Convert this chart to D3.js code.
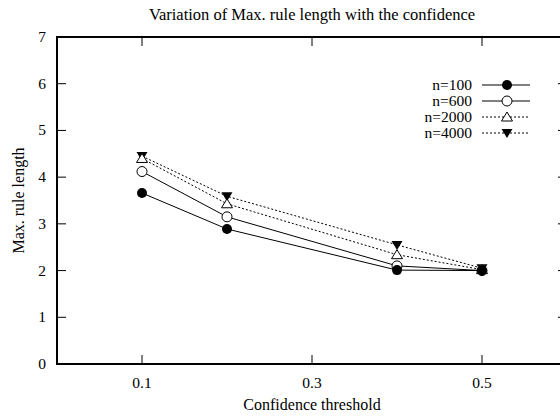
<!DOCTYPE html>
<html>
<head>
<meta charset="utf-8">
<script src="https://cdn.jsdelivr.net/npm/d3@7"></script>
<style>
  html, body { margin: 0; padding: 0; background: #fff; }
  svg { display: block; font-family: "Liberation Serif", "Times New Roman", serif; }
</style>
</head>
<body>
<svg id="chart" width="560" height="416"></svg>
<script>
// Confidence thresholds on the x axis
const thresholds = [0.1, 0.2, 0.4, 0.5];
// Maximum rule length for each sample size
const n100  = [3.66, 2.89, 2.01, 2.0];
const n600  = [4.12, 3.15, 2.10, 2.0];
const n2000 = [4.40, 3.43, 2.34, 2.02];
const n4000 = [4.45, 3.59, 2.55, 2.05];
const seriesNames = ["n=100", "n=600", "n=2000", "n=4000"];
const xTicks = [0.1, 0.3, 0.5];
const yTicks = [0, 1, 2, 3, 4, 5, 6, 7];

const series = [
  { name: seriesNames[0], values: n100,  dash: null,  marker: "dot" },
  { name: seriesNames[1], values: n600,  dash: null,  marker: "circle" },
  { name: seriesNames[2], values: n2000, dash: "2,2", marker: "tri" },
  { name: seriesNames[3], values: n4000, dash: "2,2", marker: "invtri" }
];

const svg = d3.select("#chart");
const plotL = 57, plotR = 567, plotT = 37, plotB = 364;
const x = d3.scaleLinear().domain([0, 0.6]).range([plotL, plotR]);
const y = d3.scaleLinear().domain([0, 7]).range([plotB, plotT]);

// Frame
svg.append("rect")
  .attr("x", plotL).attr("y", plotT)
  .attr("width", plotR - plotL).attr("height", plotB - plotT)
  .attr("fill", "none").attr("stroke", "#000").attr("stroke-width", 2);

// Ticks on all four sides
const tickLen = 9;
const g = svg.append("g").attr("stroke", "#000").attr("stroke-width", 1);
xTicks.forEach(t => {
  g.append("line").attr("x1", x(t)).attr("x2", x(t)).attr("y1", plotB).attr("y2", plotB - tickLen);
  g.append("line").attr("x1", x(t)).attr("x2", x(t)).attr("y1", plotT).attr("y2", plotT + tickLen);
});
yTicks.slice(1, -1).forEach(t => {
  g.append("line").attr("x1", plotL).attr("x2", plotL + tickLen).attr("y1", y(t)).attr("y2", y(t));
  g.append("line").attr("x1", plotR).attr("x2", plotR - tickLen).attr("y1", y(t)).attr("y2", y(t));
});

// Tick labels
svg.selectAll(".xl").data(xTicks).enter().append("text")
  .attr("x", d => x(d)).attr("y", plotB + 24)
  .attr("text-anchor", "middle").attr("font-size", 15.5)
  .text(d => d3.format(".1f")(d));
svg.selectAll(".yl").data(yTicks).enter().append("text")
  .attr("x", 46).attr("y", d => y(d) + 5)
  .attr("text-anchor", "end").attr("font-size", 15.5)
  .text(d => d);

// Titles
svg.append("text").attr("x", 312).attr("y", 20)
  .attr("text-anchor", "middle").attr("font-size", 16.5)
  .text("Variation of Max. rule length with the confidence");
svg.append("text").attr("x", 312).attr("y", 410)
  .attr("text-anchor", "middle").attr("font-size", 16)
  .text("Confidence threshold");
svg.append("text")
  .attr("transform", `translate(24,${(plotT + plotB) / 2}) rotate(-90)`)
  .attr("text-anchor", "middle").attr("font-size", 16)
  .text("Max. rule length");

function drawMarker(sel, type, cx, cy) {
  if (type === "dot") {
    sel.append("circle").attr("cx", cx).attr("cy", cy).attr("r", 5).attr("fill", "#000");
  } else if (type === "circle") {
    sel.append("circle").attr("cx", cx).attr("cy", cy).attr("r", 5)
      .attr("fill", "#fff").attr("stroke", "#000").attr("stroke-width", 1);
  } else if (type === "tri") {
    sel.append("path")
      .attr("d", `M${cx},${cy - 5}L${cx + 5.5},${cy + 4}L${cx - 5.5},${cy + 4}Z`)
      .attr("fill", "#fff").attr("stroke", "#000").attr("stroke-width", 1);
  } else {
    sel.append("path")
      .attr("d", `M${cx - 5.5},${cy - 4}L${cx + 5.5},${cy - 4}L${cx},${cy + 5}Z`)
      .attr("fill", "#000");
  }
}

const line = d3.line().x((d, i) => x(thresholds[i])).y(d => y(d));

// Series lines and markers, drawn back to front
series.slice().reverse().forEach(s => {
  const sg = svg.append("g");
  sg.append("path").attr("d", line(s.values))
    .attr("fill", "none").attr("stroke", "#000").attr("stroke-width", 1)
    .attr("stroke-dasharray", s.dash);
  s.values.forEach((v, i) => drawMarker(sg, s.marker, x(thresholds[i]), y(v)));
});

// Legend
const legY = [85, 101, 117, 133];
series.forEach((s, i) => {
  const lg = svg.append("g");
  lg.append("text").attr("x", 472).attr("y", legY[i] + 5)
    .attr("text-anchor", "end").attr("font-size", 15.5).text(s.name);
  lg.append("line").attr("x1", 482).attr("x2", 530).attr("y1", legY[i]).attr("y2", legY[i])
    .attr("stroke", "#000").attr("stroke-width", 1).attr("stroke-dasharray", s.dash);
  drawMarker(lg, s.marker, 507, legY[i]);
});
</script>
</body>
</html>
